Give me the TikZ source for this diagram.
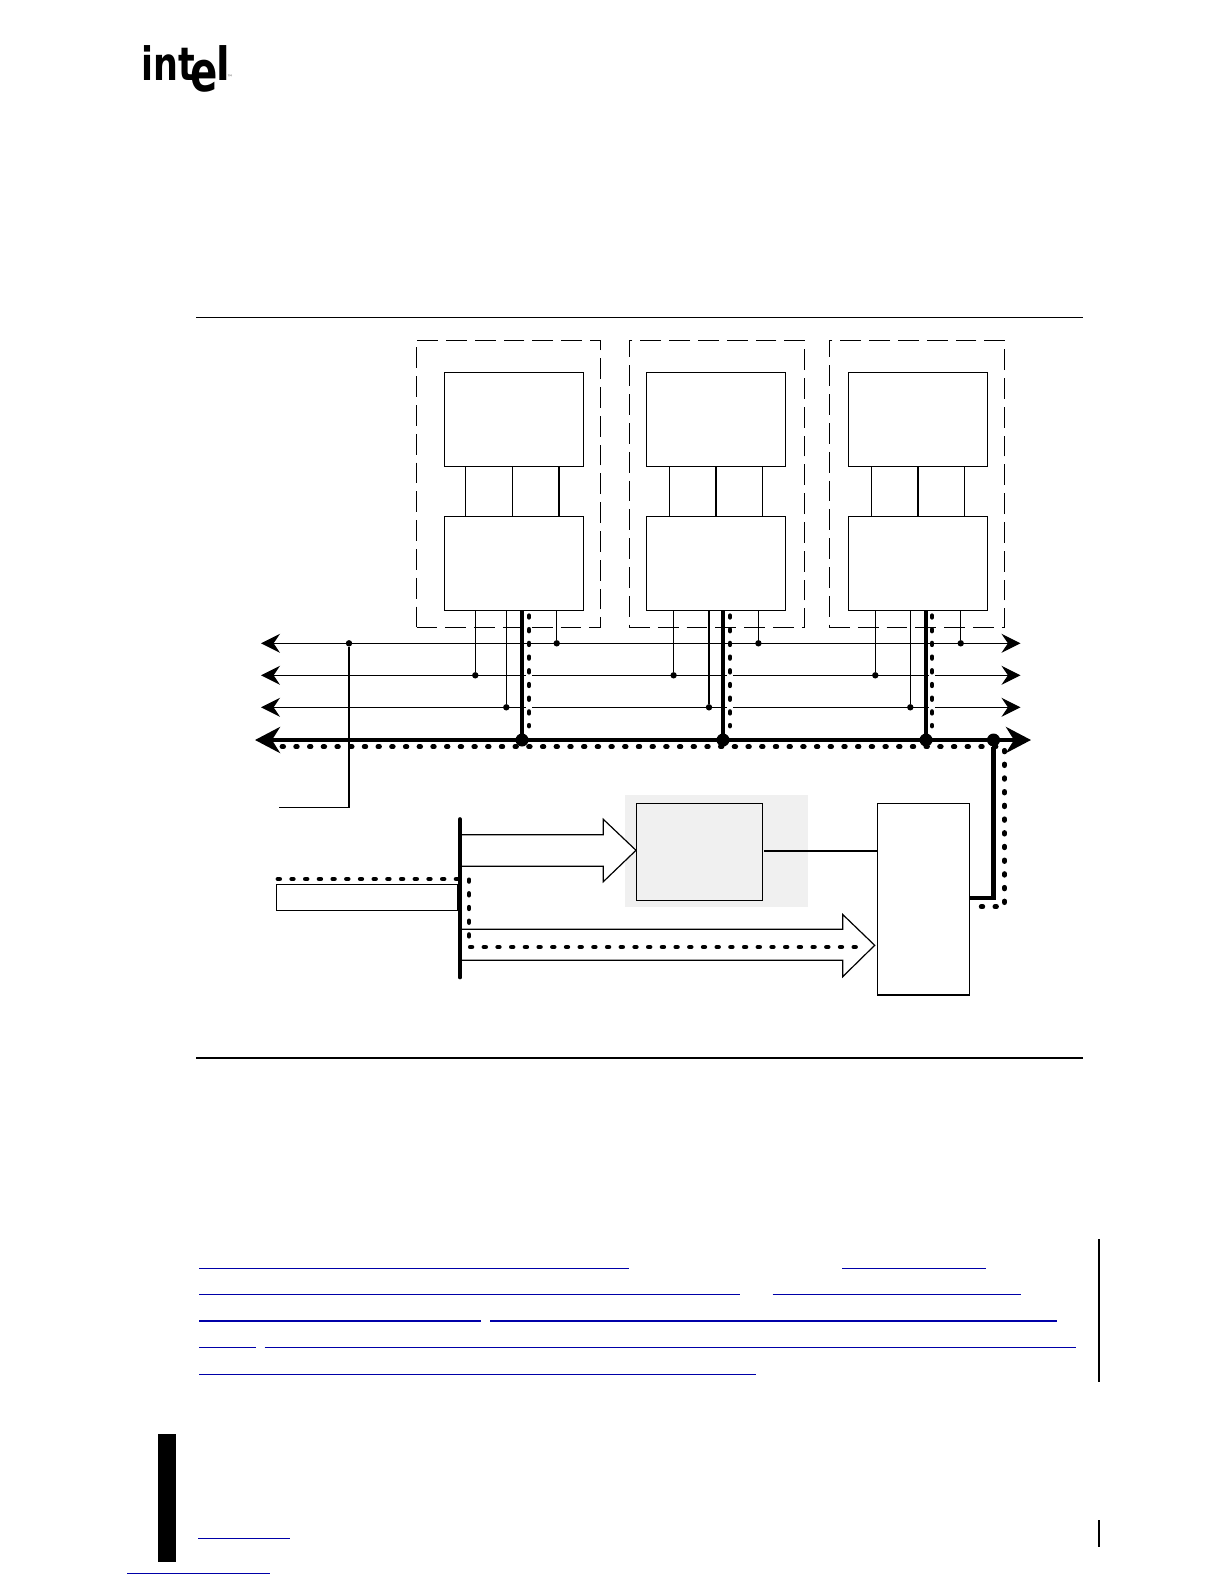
\documentclass[tikz,border=0pt]{standalone}
\usepackage{fontspec}
\setmainfont{DejaVu Sans}
\usepackage{xcolor}
\usetikzlibrary{arrows.meta,positioning}
\definecolor{panelgrey}{HTML}{F0F0F0}
\definecolor{linkblue}{HTML}{0000A8}

\begin{document}
\begin{tikzpicture}[
  x=0.5pt, y=-0.5pt,
  unitbox/.style={draw, line width=0.6pt, fill=white, minimum width=69.5pt, minimum height=47pt, inner sep=0pt, outer sep=0pt},
  groupbox/.style={draw, line width=0.45pt, dash pattern=on 10.4pt off 4pt, minimum height=143.5pt, inner sep=0pt, outer sep=0pt},
  wire/.style={line width=0.6pt},
  bus/.style={line width=0.6pt, {Stealth[length=9.5pt,width=9.5pt,inset=3.2pt]}-{Stealth[length=9.5pt,width=9.5pt,inset=3.2pt]}},
  mainbus/.style={line width=2.2pt, {Stealth[length=12.5pt,width=13pt,inset=4pt]}-{Stealth[length=12.5pt,width=13pt,inset=4pt]}},
  heavy/.style={line width=2.2pt},
  trace/.style={line width=2.4pt, line cap=round, dash pattern=on 0.8pt off 6.05pt},
  halo/.style={line width=2.6pt, white},
  tap/.style={circle, fill=black, minimum size=3.2pt, inner sep=0pt, outer sep=0pt},
  node1/.style={circle, fill=black, minimum size=6.5pt, inner sep=0pt, outer sep=0pt},
  hollow/.style={draw, line width=0.6pt, fill=white},
  bluerule/.style={linkblue, line width=0.7pt},
  logotext/.style={font=\bfseries\fontsize{23}{23}\selectfont, inner sep=0pt, transform shape}
]
\useasboundingbox (0,0) rectangle (1224,1584);
\fill[white] (0,0) rectangle (1224,1584);

% logo
\node[logotext, anchor=base west, xscale=0.76] (logoint) at (141,80.5) {int};
\node[logotext, anchor=base west, xscale=0.86] (logol) at (216,80.5) {l};
\node[logotext, anchor=base west, xscale=0.72, font=\bfseries\fontsize{28}{28}\selectfont] (logoe) at (190.5,92) {e};
\node[inner sep=0pt, font=\fontsize{3}{3}\selectfont, text=black!60] (logotm) at (230,77) {™};

% page rules
\coordinate (ruletopa) at (196,317.5);
\coordinate (ruletopb) at (1083,317.5);
\coordinate (rulebota) at (196,1058);
\coordinate (rulebotb) at (1083,1058);
\draw[line width=0.45pt] (ruletopa) -- (ruletopb);
\draw[line width=0.9pt] (rulebota) -- (rulebotb);

% dashed groups
\node[groupbox, minimum width=92pt] (group1) at (508.5,483.5) {};
\node[groupbox, minimum width=87.5pt] (group2) at (716.5,483.5) {};
\node[groupbox, minimum width=87.5pt] (group3) at (916.5,483.5) {};

% boxes
\node[unitbox] (up1) at (514,419.8) {};
\node[unitbox] (low1) at (514,563.3) {};
\node[unitbox] (up2) at (716,419.8) {};
\node[unitbox] (low2) at (716,563.3) {};
\node[unitbox] (up3) at (918,419.8) {};
\node[unitbox] (low3) at (918,563.3) {};

\draw[wire] (up1.south -| 465.5,0) -- (low1.north -| 465.5,0);
\draw[wire] (up1.south -| 512.3,0) -- (low1.north -| 512.3,0);
\draw[line width=0.9pt] (up1.south -| 558.7,0) -- (low1.north -| 558.7,0);
\draw[wire] (up2.south -| 669.5,0) -- (low2.north -| 669.5,0);
\draw[line width=0.9pt] (up2.south) -- (low2.north);
\draw[wire] (up2.south -| 762.5,0) -- (low2.north -| 762.5,0);
\draw[wire] (up3.south -| 871.5,0) -- (low3.north -| 871.5,0);
\draw[line width=0.9pt] (up3.south) -- (low3.north);
\draw[wire] (up3.south -| 964.5,0) -- (low3.north -| 964.5,0);

% bus ends
\coordinate (bus1l) at (261,643.3);
\coordinate (bus1r) at (1020.5,643.3);
\coordinate (bus2l) at (261,675.3);
\coordinate (bus2r) at (1020.5,675.3);
\coordinate (bus3l) at (261,707.3);
\coordinate (bus3r) at (1020.5,707.3);
\coordinate (bus4l) at (255,740);
\coordinate (bus4r) at (1031,740);
\draw[bus] (bus1l) -- (bus1r);
\draw[bus] (bus2l) -- (bus2r);
\draw[bus] (bus3l) -- (bus3r);
\draw[mainbus] (bus4l) -- (bus4r);

% taps
\node[tap] (t0) at (349,643.3) {};
\node[tap] (t11) at (475.3,675.3) {};
\node[tap] (t12) at (506.3,707.3) {};
\node[tap] (t13) at (556.7,643.3) {};
\node[tap] (t21) at (673.6,675.3) {};
\node[tap] (t22) at (709,707.3) {};
\node[tap] (t23) at (758.4,643.3) {};
\node[tap] (t31) at (875.3,675.3) {};
\node[tap] (t32) at (910.3,707.3) {};
\node[tap] (t33) at (960.7,643.3) {};
\draw[wire] (t11 |- low1.south) -- (t11);
\draw[wire] (t12 |- low1.south) -- (t12);
\draw[wire] (t13 |- low1.south) -- (t13);
\draw[wire] (t21 |- low2.south) -- (t21);
\draw[wire] (t22 |- low2.south) -- (t22);
\draw[wire] (t23 |- low2.south) -- (t23);
\draw[wire] (t31 |- low3.south) -- (t31);
\draw[wire] (t32 |- low3.south) -- (t32);
\draw[wire] (t33 |- low3.south) -- (t33);

\coordinate (strobe) at (279,807.3);
\draw[wire] (t0) |- (strobe);

% heavy drops
\node[node1] (j1) at (522,740) {};
\node[node1] (j2) at (723,740) {};
\node[node1] (j3) at (926,740) {};
\node[node1] (j4) at (993.5,740) {};
\draw[heavy] (j1 |- low1.south) -- (j1);
\draw[heavy] (j2 |- low2.south) -- (j2);
\draw[heavy] (j3 |- low3.south) -- (j3);

% lower part
\node[fill=panelgrey, minimum width=91.5pt, minimum height=56pt, inner sep=0pt] (panel) at (716.5,851) {};
\node[draw, line width=0.6pt, fill=panelgrey, minimum width=63.2pt, minimum height=48.5pt, inner sep=0pt, outer sep=0pt] (latch) at (699.5,851.8) {};
\node[draw, line width=0.7pt, fill=white, minimum width=46pt, minimum height=95.8pt, inner sep=0pt, outer sep=0pt] (decoder) at (923.3,899.2) {};
\node[draw, line width=0.6pt, fill=white, minimum width=90.8pt, minimum height=13pt, inner sep=0pt, outer sep=0pt] (inlet) at (367.2,897.3) {};
\coordinate (selstart) at (764,850.7);
\draw[line width=0.9pt] (selstart) -- (selstart -| decoder.west);

% wide arrows
\draw[hollow] (460,834.7) -- (603.3,834.7) -- (603.3,819.3) -- (636,850.3) -- (603.3,881.7) -- (603.3,866.3) -- (460,866.3);
\draw[hollow] (460,929.3) -- (842.7,929.3) -- (842.7,914.5) -- (874.7,945.3) -- (842.7,976.7) -- (842.7,960.3) -- (460,960.3);

\coordinate (bartop) at (460,819);
\coordinate (barbot) at (460,977.5);
\draw[line width=1.8pt, line cap=round] (bartop) -- (barbot);

% output of decoder
\coordinate (outa) at (969,897.7);
\draw[heavy] (outa) -| (j4);

% dotted traces
\draw[halo] (529,655) -- (529,728);
\draw[halo] (730,655) -- (730,728);
\draw[halo] (932,655) -- (932,728);
\draw[trace] (529,615.7) -- (529,726);
\draw[trace] (730,615.7) -- (730,726);
\draw[trace] (932,615.7) -- (932,726);
\draw[trace] (282,746.7) -- (1004.5,746.7) -- (1004.5,906.7) -- (971,906.7);
\draw[trace] (278,879) -- (469,879) -- (469,947) -- (867,947);

% blue rules
\draw[bluerule] (199,1268.4) -- (629,1268.4);
\draw[bluerule] (842,1268.4) -- (985.7,1268.4);
\draw[bluerule] (199,1294.5) -- (740,1294.5);
\draw[bluerule] (772.6,1294.5) -- (1021,1294.5);
\draw[bluerule] (199,1321) -- (480.7,1321);
\draw[bluerule] (490,1321) -- (1057.4,1321);
\draw[bluerule] (199,1347.5) -- (255.5,1347.5);
\draw[bluerule] (264.6,1347.5) -- (1075.5,1347.5);
\draw[bluerule] (199,1374.5) -- (756.4,1374.5);
\draw[bluerule] (198,1538.5) -- (290,1538.5);
\draw[bluerule] (127,1573.5) -- (270,1573.5);

% change bars
\draw[line width=1pt] (1098.8,1239) -- (1098.8,1381.5);
\draw[line width=1pt] (1098.8,1520) -- (1098.8,1547);
\fill[black] (157.5,1434) rectangle (175.7,1562);
\end{tikzpicture}
\end{document}
